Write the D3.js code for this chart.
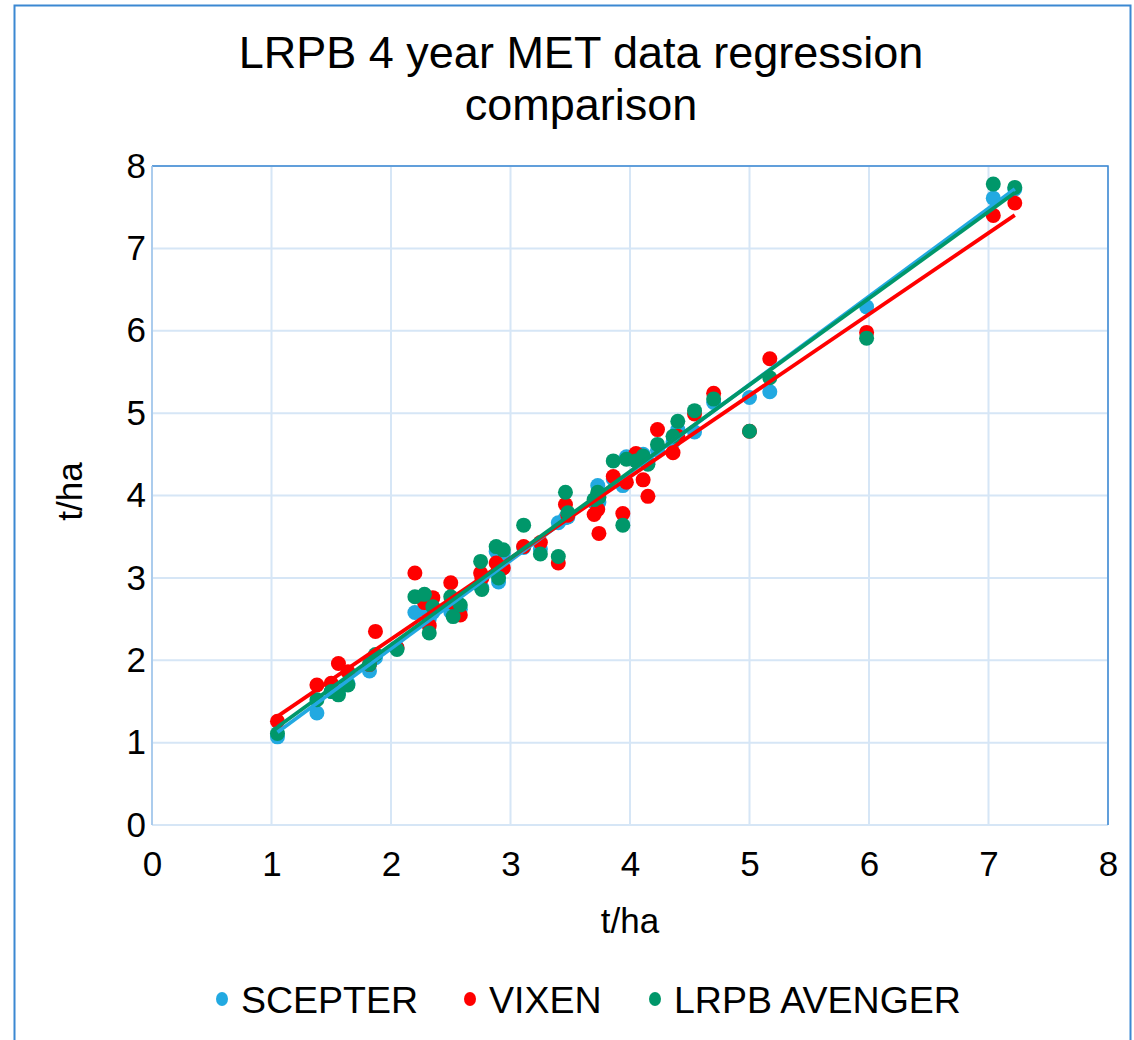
<!DOCTYPE html>
<html>
<head>
<meta charset="utf-8">
<script src="https://cdn.jsdelivr.net/npm/d3@7"></script>
<style>
  body { margin: 0; background: #fff; }
  text { font-family: "Liberation Sans", Arial, sans-serif; fill: #000; }
</style>
</head>
<body>
<div id="chart-area"></div>
<script>
// Site means (x) and variety yields (y), t/ha
var siteMean = [1.05, 1.38, 1.50, 1.56, 1.64, 1.82, 1.87, 2.05, 2.20, 2.28, 2.32, 2.35,
    2.50, 2.52, 2.58, 2.75, 2.76, 2.88, 2.90, 2.94, 3.11, 3.25, 3.40, 3.46, 3.48,
    3.70, 3.73, 3.74, 3.86, 3.94, 3.97, 4.05, 4.11, 4.15, 4.23, 4.36, 4.40, 4.54,
    4.70, 5.00, 5.17, 5.98, 7.04, 7.22];
var scepter = [1.07, 1.36, 1.62, 1.60, 1.72, 1.87, 2.03, 2.15, 2.58, 2.62, 2.50, 2.58,
    2.59, 2.62, 2.62, 2.90, 2.88, 3.32, 2.95, 3.30, 3.37, 3.35, 3.67, 3.73, 3.74,
    3.92, 4.12, 3.92, 4.20, 4.12, 4.47, 4.45, 4.50, 4.40, 4.55, 4.65, 4.80, 4.77,
    5.13, 5.19, 5.26, 6.29, 7.61, 7.72];
var vixen = [1.26, 1.70, 1.72, 1.96, 1.86, 1.95, 2.35, 2.15, 3.06, 2.70, 2.42, 2.76,
    2.94, 2.70, 2.55, 3.06, 3.00, 3.18, 3.12, 3.12, 3.38, 3.43, 3.18, 3.89, 3.76,
    3.77, 3.83, 3.54, 4.23, 3.78, 4.16, 4.51, 4.19, 3.99, 4.80, 4.52, 4.72, 4.99,
    5.24, 4.78, 5.66, 5.98, 7.40, 7.55];
var avenger = [1.11, 1.52, 1.62, 1.58, 1.70, 1.95, 2.07, 2.13, 2.77, 2.80, 2.33, 2.65,
    2.77, 2.53, 2.67, 3.20, 2.86, 3.38, 3.00, 3.34, 3.64, 3.29, 3.26, 4.04, 3.79,
    3.95, 4.04, 3.98, 4.42, 3.64, 4.44, 4.42, 4.48, 4.38, 4.62, 4.72, 4.90, 5.03,
    5.17, 4.78, 5.43, 5.91, 7.78, 7.74];
var seriesNames = ["SCEPTER", "VIXEN", "LRPB AVENGER"];
var seriesColors = ["#22a9e1", "#ff0000", "#00976a"];
var ticks = [0, 1, 2, 3, 4, 5, 6, 7, 8];

var margin = { left: 152, right: 26, top: 166, bottom: 215 };
var width = 1134 - margin.left - margin.right,
    height = 1040 - margin.top - margin.bottom;

var svg = d3.select("#chart-area").append("svg")
    .attr("width", 1134)
    .attr("height", 1040);

// outer frame
svg.append("rect")
    .attr("x", 14.5).attr("y", 5.5)
    .attr("width", 1116).attr("height", 1050)
    .attr("fill", "none")
    .attr("stroke", "#3b88d2")
    .attr("stroke-width", 2);

// title
svg.append("text")
    .attr("x", 581).attr("y", 68)
    .attr("font-size", "45px")
    .attr("text-anchor", "middle")
    .text("LRPB 4 year MET data regression");
svg.append("text")
    .attr("x", 581).attr("y", 120)
    .attr("font-size", "45px")
    .attr("text-anchor", "middle")
    .text("comparison");

var g = svg.append("g").attr("transform", "translate(" + margin.left + ", " + margin.top + ")");

var x = d3.scaleLinear().domain([0, 8]).range([0, width]);
var y = d3.scaleLinear().domain([0, 8]).range([height, 0]);

// gridlines
g.selectAll(".vgrid").data(ticks).enter().append("line")
    .attr("x1", (d) => x(d)).attr("x2", (d) => x(d))
    .attr("y1", 0).attr("y2", height)
    .attr("stroke", "#d6e6f6").attr("stroke-width", 2);
g.selectAll(".hgrid").data(ticks).enter().append("line")
    .attr("y1", (d) => y(d)).attr("y2", (d) => y(d))
    .attr("x1", 0).attr("x2", width)
    .attr("stroke", "#d6e6f6").attr("stroke-width", 2);
// plot border top/right
g.append("path")
    .attr("d", "M0," + y(8) + "H" + x(8) + "V" + y(0))
    .attr("fill", "none")
    .attr("stroke", "#3b88d2")
    .attr("stroke-width", 1.5);
g.append("line")
    .attr("x1", 0).attr("x2", 0).attr("y1", 0).attr("y2", height)
    .attr("stroke", "#9cc3ea").attr("stroke-width", 1.5);

// tick labels
var xAxis = d3.axisBottom(x).tickValues(ticks).tickSize(0).tickPadding(26);
var xAxisGroup = g.append("g").attr("transform", "translate(0, " + height + ")").call(xAxis);
var yAxis = d3.axisLeft(y).tickValues(ticks).tickSize(0).tickPadding(6);
var yAxisGroup = g.append("g").call(yAxis);
[xAxisGroup, yAxisGroup].forEach((ax) => {
    ax.select(".domain").remove();
    ax.selectAll("text")
        .attr("font-size", "35px")
        .attr("font-family", "Liberation Sans, Arial, sans-serif")
        .attr("fill", "#000");
});

// axis labels
g.append("text")
    .attr("x", width / 2)
    .attr("y", height + 108)
    .attr("font-size", "35px")
    .attr("text-anchor", "middle")
    .text("t/ha");
g.append("text")
    .attr("x", -(height / 2) + 4)
    .attr("y", -70)
    .attr("font-size", "35px")
    .attr("text-anchor", "middle")
    .attr("transform", "rotate(-90)")
    .text("t/ha");

var allSeries = [scepter, vixen, avenger];

// points
allSeries.forEach((vals, i) => {
    var data = siteMean.map((m, j) => ({ x: m, y: vals[j] }));
    g.append("g").selectAll("circle")
        .data(data)
        .enter().append("circle")
        .attr("cx", (d) => x(d.x))
        .attr("cy", (d) => y(d.y))
        .attr("r", 7.5)
        .attr("fill", seriesColors[i]);
});

// linear trendlines (least squares on the points above)
var xMin = d3.min(siteMean), xMax = d3.max(siteMean);
[0, 1, 2].forEach((i) => {
    var vals = allSeries[i];
    var mx = d3.mean(siteMean), my = d3.mean(vals);
    var sxy = d3.sum(siteMean, (m, j) => (m - mx) * (vals[j] - my));
    var sxx = d3.sum(siteMean, (m) => (m - mx) * (m - mx));
    var slope = sxy / sxx, icpt = my - slope * mx;
    g.append("line")
        .attr("x1", x(xMin)).attr("y1", y(icpt + slope * xMin))
        .attr("x2", x(xMax)).attr("y2", y(icpt + slope * xMax))
        .attr("stroke", seriesColors[i])
        .attr("stroke-width", 3.8);
});

// legend
var legendX = [222, 470, 655];
var legend = svg.append("g");
seriesNames.forEach((name, i) => {
    legend.append("ellipse")
        .attr("cx", legendX[i]).attr("cy", 999)
        .attr("rx", 6).attr("ry", 7)
        .attr("fill", seriesColors[i]);
    legend.append("text")
        .attr("x", legendX[i] + 19).attr("y", 1013)
        .attr("font-size", "37.5px")
        .text(name);
});
</script>
</body>
</html>
